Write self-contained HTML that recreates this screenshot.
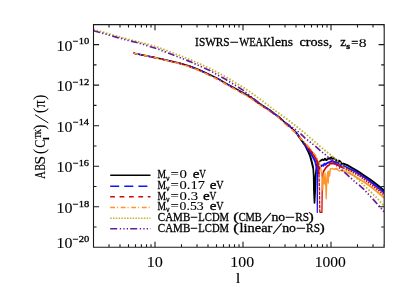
<!DOCTYPE html>
<html><head><meta charset="utf-8"><title>plot</title>
<style>html,body{margin:0;padding:0;background:#fff;width:415px;height:297px;overflow:hidden}
body{position:relative;font-family:"Liberation Serif",serif}</style></head>
<body>
<svg width="415" height="297" viewBox="0 0 415 297" style="position:absolute;left:0;top:0">
<rect width="415" height="297" fill="#fff"/>
<defs><clipPath id="c"><rect x="93.5" y="24.6" width="290.7" height="222.7"/></clipPath></defs>
<g clip-path="url(#c)" fill="none" stroke-linejoin="round">
<path d="M133.5,52.9 L135.0,53.4 L147.1,55.9 L159.3,58.4 L171.4,61.2 L180.0,63.2 L190.1,66.3 L200.2,70.3 L210.3,74.9 L218.4,78.9 L225.1,82.8 L235.2,88.3 L245.3,93.9 L250.4,96.9 L260.1,103.8 L270.2,110.3 L275.0,114.1 L279.3,117.0 L285.1,122.7 L290.2,126.8 L295.2,131.5" stroke="#000000" stroke-width="1.50"/>
<path d="M295.2,131.5 L298.0,135.0 L301.0,139.5 L305.1,145.1 L308.1,151.2 L310.2,156.2 L311.7,161.8 L313.2,168.0" stroke="#000000" stroke-width="2.00"/>
<path d="M313.2,168.0 L313.7,176.0 L313.9,190.0 L314.5,203.0 L315.2,190.0 L315.5,176.0 L316.2,170.0 L317.4,165.0 L318.6,162.8 L320.0,160.9" stroke="#000000" stroke-width="1.70"/>
<path d="M320.0,160.9 L321.2,160.3 L322.5,159.5 L323.8,160.1 L325.0,158.7 L326.2,160.1 L327.5,159.4 L328.8,158.2 L330.0,158.6 L331.2,157.3 L332.5,158.7 L333.8,158.3 L335.0,158.8 L336.2,160.2 L337.5,161.7 L338.8,160.6 L340.0,161.3 L341.2,162.9 L342.5,164.3 L343.4,163.6 L343.4,163.6 L347.3,165.2 L351.9,167.8 L355.0,169.5 L360.3,172.9 L363.4,175.0 L368.7,178.5 L371.9,180.8 L380.3,187.3 L384.3,191.0" stroke="#000000" stroke-width="1.90"/>
<path d="M133.5,53.0 L135.0,53.5 L147.1,56.0 L159.3,58.5 L171.4,61.4 L180.0,63.4 L190.1,66.5 L200.2,70.6 L210.3,75.2 L218.4,79.2 L225.1,83.1 L235.2,88.7 L245.3,94.3 L250.4,97.3 L260.1,104.2 L270.2,110.7 L275.0,114.5 L279.3,117.4 L285.1,123.1 L290.2,127.2 L295.2,131.9 L298.0,135.5 L301.0,140.0 L305.1,145.6 L307.0,148.0" stroke="#1212ff" stroke-width="1.50" stroke-dasharray="9 5"/>
<path d="M307.0,148.0 L310.2,151.9 L313.2,157.5 L315.2,161.5 L316.3,166.0 L316.9,172.0" stroke="#1212ff" stroke-width="2.00"/>
<path d="M316.9,172.0 L317.2,190.0 L317.3,212.4 L317.5,190.0 L317.8,172.0" stroke="#1212ff" stroke-width="1.20"/>
<path d="M317.8,172.0 L318.6,169.2 L320.0,166.9 L320.0,166.9 L321.1,166.2 L322.2,165.2 L323.3,165.7 L324.4,163.8 L325.5,164.7 L326.6,163.4 L327.7,162.8 L328.8,162.3 L329.9,161.9 L331.0,161.8 L332.1,160.6 L333.2,161.5 L334.3,161.9 L335.4,162.0 L336.5,162.8 L337.6,162.6 L338.7,163.1 L339.8,163.8 L340.9,165.0 L341.5,165.0 L341.5,165.0 L343.4,165.7 L345.1,166.6 L351.9,170.0 L355.0,171.3 L360.3,174.8 L363.4,176.8 L367.0,179.0 L371.9,182.7 L379.5,188.8 L384.3,192.8" stroke="#1212ff" stroke-width="1.90"/>
<path d="M133.5,53.0 L135.0,53.5 L147.1,56.0 L159.3,58.6 L171.4,61.5 L180.0,63.6 L190.1,66.7 L200.2,70.8 L210.3,75.5 L218.4,79.5 L225.1,83.5 L235.2,89.1 L245.3,94.7 L250.4,97.7 L260.1,104.6 L270.2,111.1 L275.0,114.9 L279.3,117.8 L285.1,123.5 L290.2,127.6 L295.2,132.3 L298.0,136.0 L301.0,139.5 L305.1,144.0 L308.1,147.4" stroke="#cc0808" stroke-width="1.50" stroke-dasharray="4.7 4.7"/>
<path d="M308.1,147.4 L313.2,153.9 L316.7,160.0 L318.3,167.0 L319.0,174.0" stroke="#cc0808" stroke-width="1.90"/>
<path d="M319.0,174.0 L319.5,190.0 L319.8,212.4" stroke="#cc0808" stroke-width="1.30" stroke-dasharray="3.4 1.0"/>
<path d="M319.8,212.4 L321.9,212.4 L322.2,190.0 L322.5,178.0 L323.2,172.0" stroke="#cc0808" stroke-width="1.30"/>
<path d="M323.2,172.0 L324.4,170.0 L324.4,170.0 L325.1,168.9 L325.8,167.8 L326.5,167.2 L327.2,166.2 L327.9,165.5 L328.6,165.6 L329.3,164.7 L330.0,163.4 L330.7,163.6 L331.4,163.4 L332.1,163.6 L332.8,163.3 L333.5,163.0 L334.2,164.1 L334.9,163.4 L335.6,164.0 L336.3,164.7 L337.0,164.3 L337.7,165.1 L338.4,164.9 L339.1,166.0 L339.8,166.4 L340.5,166.5 L341.2,167.2 L341.9,166.9 L342.6,167.7 L343.4,167.8" stroke="#cc0808" stroke-width="1.70"/>
<path d="M343.4,167.8 L351.9,171.6 L355.0,173.4 L360.3,176.3 L363.4,178.7 L364.5,179.4 L371.9,185.0 L376.9,188.9 L384.3,195.0" stroke="#cc0808" stroke-width="1.90" stroke-dasharray="1.6 1.0"/>
<path d="M133.5,53.1 L135.0,53.6 L147.1,56.1 L159.3,58.7 L171.4,61.7 L180.0,63.7 L190.1,67.0 L200.2,71.1 L210.3,75.8 L218.4,79.9 L225.1,83.8 L235.2,89.4 L245.3,95.1 L250.4,98.1 L260.1,105.0 L270.2,111.5 L275.0,115.3 L279.3,118.2 L285.1,123.9 L290.2,128.0 L295.2,132.7 L299.0,136.7 L305.1,142.8 L310.2,148.9 L315.2,154.9 L316.7,157.5 L318.5,161.0 L320.0,165.0" stroke="#ff9428" stroke-width="1.50" stroke-dasharray="4.8 2 1 2.7"/>
<path d="M320.0,165.0 L321.0,170.0 L322.0,178.0 L322.8,190.0 L323.4,176.0 L324.3,184.0 L325.0,173.0 L325.8,187.0 L326.2,198.8 L326.8,180.0 L327.6,172.0 L328.2,183.0 L328.9,171.0 L329.6,176.0 L330.4,168.6 L330.4,168.6 L331.2,168.8 L332.0,168.7 L332.8,168.5 L333.6,169.2 L334.4,169.4 L335.2,168.5 L336.0,169.2 L336.8,168.3 L337.6,169.9 L338.4,170.1 L339.2,171.0 L340.0,170.9 L340.8,170.1 L341.6,170.5 L342.4,171.3 L343.2,170.2 L344.0,171.3 L344.8,171.0 L345.6,171.1 L346.4,171.2 L347.2,172.9 L347.6,172.5" stroke="#ff9428" stroke-width="1.30"/>
<path d="M347.6,172.5 L351.9,174.6 L356.1,177.1 L359.5,179.2 L363.4,181.6 L371.9,187.5 L373.3,188.6 L384.3,197.8" stroke="#ff9428" stroke-width="1.80"/>
<path d="M93.4,29.5 L104.0,32.5 L116.0,36.0 L128.4,39.4 L140.5,42.4 L147.1,44.1 L159.3,47.7 L171.4,52.4 L181.0,56.1 L190.1,59.6 L200.2,64.1 L210.3,68.7 L219.4,73.5 L225.1,76.6 L235.2,82.6 L245.3,88.7 L253.4,94.3 L260.1,99.3 L270.2,107.0 L280.3,114.3 L285.1,117.8 L295.2,125.4 L305.3,133.4 L310.2,137.9 L315.2,142.1 L320.3,146.6 L325.3,150.7 L330.4,154.7 L334.3,157.8 L339.2,162.4 L343.4,166.2 L347.6,170.1 L351.9,174.0 L356.1,177.6 L359.2,180.6 L363.4,184.8 L367.6,188.8 L376.0,197.0 L384.3,206.2" stroke="#bdb52b" stroke-width="1.85" stroke-dasharray="1.5 1.8"/>
<path d="M93.4,30.7 L104.0,33.6 L116.0,37.1 L128.4,40.5 L140.5,43.5 L147.1,45.6 L159.3,49.5 L171.4,54.3 L181.0,58.1 L190.1,61.6 L200.2,66.2 L210.3,70.7 L218.0,75.3 L225.1,79.1 L235.2,85.2 L243.3,90.4 L249.3,95.2 L260.1,103.9 L270.2,110.5 L279.3,117.2 L285.1,122.6 L288.1,124.5 L295.2,129.3 L301.3,134.4 L305.1,138.1 L310.2,142.1 L315.2,146.1 L320.3,150.7 L325.3,154.7 L329.3,158.3 L332.8,161.4 L335.0,164.0 L339.2,167.6 L343.4,171.4 L347.6,175.2 L351.9,179.0 L355.0,181.9 L359.2,185.2 L363.4,188.8 L372.0,198.0 L384.3,212.0" stroke="#6a1a9a" stroke-width="1.70" stroke-dasharray="6.9 2.1 1.3 2.1 1.3 2.1 1.3 2.4"/>
</g>
<path d="M93.5,24.6 H384.2 V247.3 H93.5 Z M109.0,247.3 v-3.0 M109.0,24.6 v3.0 M120.0,247.3 v-3.0 M120.0,24.6 v3.0 M128.5,247.3 v-3.0 M128.5,24.6 v3.0 M135.5,247.3 v-3.0 M135.5,24.6 v3.0 M141.4,247.3 v-3.0 M141.4,24.6 v3.0 M146.5,247.3 v-3.0 M146.5,24.6 v3.0 M151.0,247.3 v-3.0 M151.0,24.6 v3.0 M155.0,247.3 v-5.6 M155.0,24.6 v5.6 M181.5,247.3 v-3.0 M181.5,24.6 v3.0 M197.0,247.3 v-3.0 M197.0,24.6 v3.0 M208.0,247.3 v-3.0 M208.0,24.6 v3.0 M216.5,247.3 v-3.0 M216.5,24.6 v3.0 M223.5,247.3 v-3.0 M223.5,24.6 v3.0 M229.4,247.3 v-3.0 M229.4,24.6 v3.0 M234.5,247.3 v-3.0 M234.5,24.6 v3.0 M239.0,247.3 v-3.0 M239.0,24.6 v3.0 M243.0,247.3 v-5.6 M243.0,24.6 v5.6 M269.5,247.3 v-3.0 M269.5,24.6 v3.0 M285.0,247.3 v-3.0 M285.0,24.6 v3.0 M296.0,247.3 v-3.0 M296.0,24.6 v3.0 M304.5,247.3 v-3.0 M304.5,24.6 v3.0 M311.5,247.3 v-3.0 M311.5,24.6 v3.0 M317.4,247.3 v-3.0 M317.4,24.6 v3.0 M322.5,247.3 v-3.0 M322.5,24.6 v3.0 M327.0,247.3 v-3.0 M327.0,24.6 v3.0 M331.0,247.3 v-5.6 M331.0,24.6 v5.6 M357.5,247.3 v-3.0 M357.5,24.6 v3.0 M373.0,247.3 v-3.0 M373.0,24.6 v3.0 M384.0,247.3 v-3.0 M384.0,24.6 v3.0 M93.5,227.0 h3.0 M384.2,227.0 h-3.0 M93.5,206.8 h5.6 M384.2,206.8 h-5.6 M93.5,186.5 h3.0 M384.2,186.5 h-3.0 M93.5,166.2 h5.6 M384.2,166.2 h-5.6 M93.5,146.0 h3.0 M384.2,146.0 h-3.0 M93.5,125.7 h5.6 M384.2,125.7 h-5.6 M93.5,105.4 h3.0 M384.2,105.4 h-3.0 M93.5,85.1 h5.6 M384.2,85.1 h-5.6 M93.5,64.9 h3.0 M384.2,64.9 h-3.0 M93.5,44.6 h5.6 M384.2,44.6 h-5.6" fill="none" stroke="#1a1a1a" stroke-width="1.1"/>
<path d="M110.2,175.3 H150.5" fill="none" stroke="#000000" stroke-width="1.45"/>
<path d="M110.2,186.2 H150.5" fill="none" stroke="#1212ff" stroke-width="1.45" stroke-dasharray="9 5.1"/>
<path d="M110.2,196.7 H150.5" fill="none" stroke="#cc0808" stroke-width="1.45" stroke-dasharray="4.7 4.7"/>
<path d="M110.2,207.4 H150.5" fill="none" stroke="#ff9428" stroke-width="1.45" stroke-dasharray="4.8 2 1 2.75"/>
<path d="M110.2,218.3 H150.5" fill="none" stroke="#bdb52b" stroke-width="1.45" stroke-dasharray="1.5 1.3"/>
<path d="M110.2,228.8 H150.5" fill="none" stroke="#6a1a9a" stroke-width="1.45" stroke-dasharray="7 2.6 1.3 2.2 1.3 2.1 1.3 2.2"/>
<g fill="#000" stroke="#000" stroke-width="0.3" opacity="0.999">
<text transform="translate(56.43,247.80) scale(1.174,1)" font-size="13.6" font-family="Liberation Serif, serif" stroke-width="0.1">10</text>
<text transform="translate(72.87,241.60) scale(1.257,1)" font-size="8.4" font-family="Liberation Serif, serif">−20</text>
<text transform="translate(56.43,212.76) scale(1.174,1)" font-size="13.6" font-family="Liberation Serif, serif" stroke-width="0.1">10</text>
<text transform="translate(72.87,206.56) scale(1.257,1)" font-size="8.4" font-family="Liberation Serif, serif">−18</text>
<text transform="translate(56.43,172.22) scale(1.174,1)" font-size="13.6" font-family="Liberation Serif, serif" stroke-width="0.1">10</text>
<text transform="translate(72.88,166.02) scale(1.232,1)" font-size="8.4" font-family="Liberation Serif, serif">−16</text>
<text transform="translate(56.43,131.68) scale(1.174,1)" font-size="13.6" font-family="Liberation Serif, serif" stroke-width="0.1">10</text>
<text transform="translate(72.88,125.48) scale(1.232,1)" font-size="8.4" font-family="Liberation Serif, serif">−14</text>
<text transform="translate(56.43,91.14) scale(1.174,1)" font-size="13.6" font-family="Liberation Serif, serif" stroke-width="0.1">10</text>
<text transform="translate(72.87,84.94) scale(1.257,1)" font-size="8.4" font-family="Liberation Serif, serif">−12</text>
<text transform="translate(56.43,50.60) scale(1.174,1)" font-size="13.6" font-family="Liberation Serif, serif" stroke-width="0.1">10</text>
<text transform="translate(72.87,44.40) scale(1.257,1)" font-size="8.4" font-family="Liberation Serif, serif">−10</text>
<text transform="translate(146.71,266.70) scale(1.191,1)" font-size="13.6" font-family="Liberation Serif, serif" stroke-width="0.1">10</text>
<text transform="translate(230.35,266.70) scale(1.163,1)" font-size="13.6" font-family="Liberation Serif, serif" stroke-width="0.1">100</text>
<text transform="translate(314.67,266.70) scale(1.145,1)" font-size="13.6" font-family="Liberation Serif, serif" stroke-width="0.1">1000</text>
<text transform="translate(235.69,282.60) scale(1.231,1)" font-size="13.6" font-family="Liberation Serif, serif" stroke-width="0.1">l</text>
<text transform="translate(195.12,46.40) scale(0.958,1)" font-size="11.8" font-family="Liberation Serif, serif">ISWRS</text>
<text transform="translate(229.63,46.40) scale(1.339,1)" font-size="11.8" font-family="Liberation Serif, serif">−</text>
<text transform="translate(239.20,46.40) scale(0.894,1)" font-size="11.8" font-family="Liberation Serif, serif">WEAK</text>
<text transform="translate(271.12,46.40) scale(1.111,1)" font-size="12.2" font-family="Liberation Serif, serif">lens</text>
<text transform="translate(299.52,46.40) scale(1.163,1)" font-size="12.2" font-family="Liberation Serif, serif">cross,</text>
<text transform="translate(340.33,46.40) scale(1.074,1)" font-size="12.2" font-family="Liberation Serif, serif">z</text>
<text transform="translate(346.37,48.90) scale(1.320,1)" font-size="7.4" font-family="Liberation Serif, serif" font-weight="bold">s</text>
<text transform="translate(351.17,46.70) scale(1.061,1)" font-size="11.8" font-family="Liberation Serif, serif">=</text>
<text transform="translate(358.78,46.70) scale(1.238,1)" font-size="12.6" font-family="Liberation Serif, serif" stroke-width="0.1">8</text>
<text transform="translate(157.40,178.30) scale(0.810,1)" font-size="11.8" font-family="Liberation Serif, serif">M</text>
<text transform="translate(166.00,180.60) scale(0.971,1)" font-size="8.0" font-family="Liberation Serif, serif">ν</text>
<text transform="translate(170.57,178.30) scale(1.252,1)" font-size="11.8" font-family="Liberation Serif, serif" stroke-width="0.1">=</text>
<text transform="translate(179.57,178.30) scale(1.260,1)" font-size="11.8" font-family="Liberation Serif, serif" stroke-width="0.1">0</text>
<text transform="translate(192.78,178.30) scale(1.244,1)" font-size="12.2" font-family="Liberation Serif, serif">e</text>
<text transform="translate(199.30,178.30) scale(0.776,1)" font-size="11.8" font-family="Liberation Serif, serif">V</text>
<text transform="translate(157.40,188.90) scale(0.810,1)" font-size="11.8" font-family="Liberation Serif, serif">M</text>
<text transform="translate(166.00,191.20) scale(0.971,1)" font-size="8.0" font-family="Liberation Serif, serif">ν</text>
<text transform="translate(170.57,188.90) scale(1.252,1)" font-size="11.8" font-family="Liberation Serif, serif" stroke-width="0.1">=</text>
<text transform="translate(179.58,188.90) scale(1.235,1)" font-size="11.8" font-family="Liberation Serif, serif" stroke-width="0.1">0.17</text>
<text transform="translate(209.78,188.90) scale(1.244,1)" font-size="12.2" font-family="Liberation Serif, serif">e</text>
<text transform="translate(216.30,188.90) scale(0.859,1)" font-size="11.8" font-family="Liberation Serif, serif">V</text>
<text transform="translate(157.40,199.50) scale(0.810,1)" font-size="11.8" font-family="Liberation Serif, serif">M</text>
<text transform="translate(166.00,201.80) scale(0.971,1)" font-size="8.0" font-family="Liberation Serif, serif">ν</text>
<text transform="translate(170.57,199.50) scale(1.252,1)" font-size="11.8" font-family="Liberation Serif, serif" stroke-width="0.1">=</text>
<text transform="translate(179.57,199.50) scale(1.251,1)" font-size="11.8" font-family="Liberation Serif, serif" stroke-width="0.1">0.3</text>
<text transform="translate(203.08,199.50) scale(1.244,1)" font-size="12.2" font-family="Liberation Serif, serif">e</text>
<text transform="translate(209.60,199.50) scale(0.800,1)" font-size="11.8" font-family="Liberation Serif, serif">V</text>
<text transform="translate(157.40,210.10) scale(0.810,1)" font-size="11.8" font-family="Liberation Serif, serif">M</text>
<text transform="translate(166.00,212.40) scale(0.971,1)" font-size="8.0" font-family="Liberation Serif, serif">ν</text>
<text transform="translate(170.57,210.10) scale(1.252,1)" font-size="11.8" font-family="Liberation Serif, serif" stroke-width="0.1">=</text>
<text transform="translate(179.62,210.10) scale(1.165,1)" font-size="11.8" font-family="Liberation Serif, serif" stroke-width="0.1">0.53</text>
<text transform="translate(209.78,210.10) scale(1.244,1)" font-size="12.2" font-family="Liberation Serif, serif">e</text>
<text transform="translate(216.30,210.10) scale(0.859,1)" font-size="11.8" font-family="Liberation Serif, serif">V</text>
<text transform="translate(157.83,220.90) scale(0.933,1)" font-size="11.8" font-family="Liberation Serif, serif">CAMB</text>
<text transform="translate(190.33,220.90) scale(1.130,1)" font-size="11.8" font-family="Liberation Serif, serif">−</text>
<text transform="translate(198.27,220.90) scale(0.904,1)" font-size="11.8" font-family="Liberation Serif, serif">LCDM</text>
<text transform="translate(233.32,220.90) scale(1.354,1)" font-size="12.5" font-family="Liberation Serif, serif">(</text>
<text transform="translate(238.66,220.90) scale(0.883,1)" font-size="11.8" font-family="Liberation Serif, serif">CMB</text>
<text transform="translate(271.42,220.90) scale(1.122,1)" font-size="12.2" font-family="Liberation Serif, serif">no</text>
<text transform="translate(285.06,220.90) scale(1.478,1)" font-size="11.8" font-family="Liberation Serif, serif">−</text>
<text transform="translate(295.26,220.90) scale(0.956,1)" font-size="11.8" font-family="Liberation Serif, serif">RS</text>
<text transform="translate(308.59,220.90) scale(1.257,1)" font-size="12.5" font-family="Liberation Serif, serif">)</text>
<text transform="translate(157.83,231.50) scale(0.933,1)" font-size="11.8" font-family="Liberation Serif, serif">CAMB</text>
<text transform="translate(190.33,231.50) scale(1.130,1)" font-size="11.8" font-family="Liberation Serif, serif">−</text>
<text transform="translate(198.27,231.50) scale(0.904,1)" font-size="11.8" font-family="Liberation Serif, serif">LCDM</text>
<text transform="translate(233.32,231.50) scale(1.354,1)" font-size="12.5" font-family="Liberation Serif, serif">(</text>
<text transform="translate(239.61,231.50) scale(1.178,1)" font-size="12.2" font-family="Liberation Serif, serif">linear</text>
<text transform="translate(282.22,231.50) scale(1.130,1)" font-size="12.2" font-family="Liberation Serif, serif">no</text>
<text transform="translate(295.97,231.50) scale(1.461,1)" font-size="11.8" font-family="Liberation Serif, serif">−</text>
<text transform="translate(306.06,231.50) scale(0.963,1)" font-size="11.8" font-family="Liberation Serif, serif">RS</text>
<text transform="translate(319.49,231.50) scale(1.257,1)" font-size="12.5" font-family="Liberation Serif, serif">)</text>
<path d="M262.2,223.4 L270.9,212.8" stroke-width="1.1" fill="none"/>
<path d="M273.1,234.0 L281.7,223.4" stroke-width="1.1" fill="none"/>
<g transform="translate(45.3,178.6) rotate(-90)" stroke-width="0.15">
<path d="M55.7,3.0 L63.9,-10.3" stroke-width="0.95" fill="none"/>
<text transform="translate(-0.20,0.00) scale(0.740,1)" font-size="14" font-family="Liberation Serif, serif">A</text>
<text transform="translate(8.13,0.00) scale(0.682,1)" font-size="14" font-family="Liberation Serif, serif">B</text>
<text transform="translate(14.10,0.00) scale(1.100,1)" font-size="14" font-family="Liberation Serif, serif">S</text>
<text transform="translate(24.47,0.00) scale(0.978,1)" font-size="17" font-family="Liberation Serif, serif" stroke-width="0">(</text>
<text transform="translate(30.96,0.00) scale(0.875,1)" font-size="14" font-family="Liberation Serif, serif">C</text>
<text transform="translate(38.70,3.40) scale(1.200,1)" font-size="8.2" font-family="Liberation Serif, serif" font-weight="bold">l</text>
<text transform="translate(40.00,-4.60) scale(0.882,1)" font-size="7.6" font-family="Liberation Serif, serif" font-weight="bold">TK</text>
<text transform="translate(48.93,0.00) scale(0.933,1)" font-size="17" font-family="Liberation Serif, serif" stroke-width="0">)</text>
<text transform="translate(65.28,0.00) scale(0.956,1)" font-size="17" font-family="Liberation Serif, serif" stroke-width="0">(</text>
<text transform="translate(71.19,0.00) scale(0.852,1)" font-size="16.5" font-family="Liberation Serif, serif">π</text>
<text transform="translate(78.72,0.00) scale(0.956,1)" font-size="17" font-family="Liberation Serif, serif" stroke-width="0">)</text>
</g></g></svg>
</body></html>
